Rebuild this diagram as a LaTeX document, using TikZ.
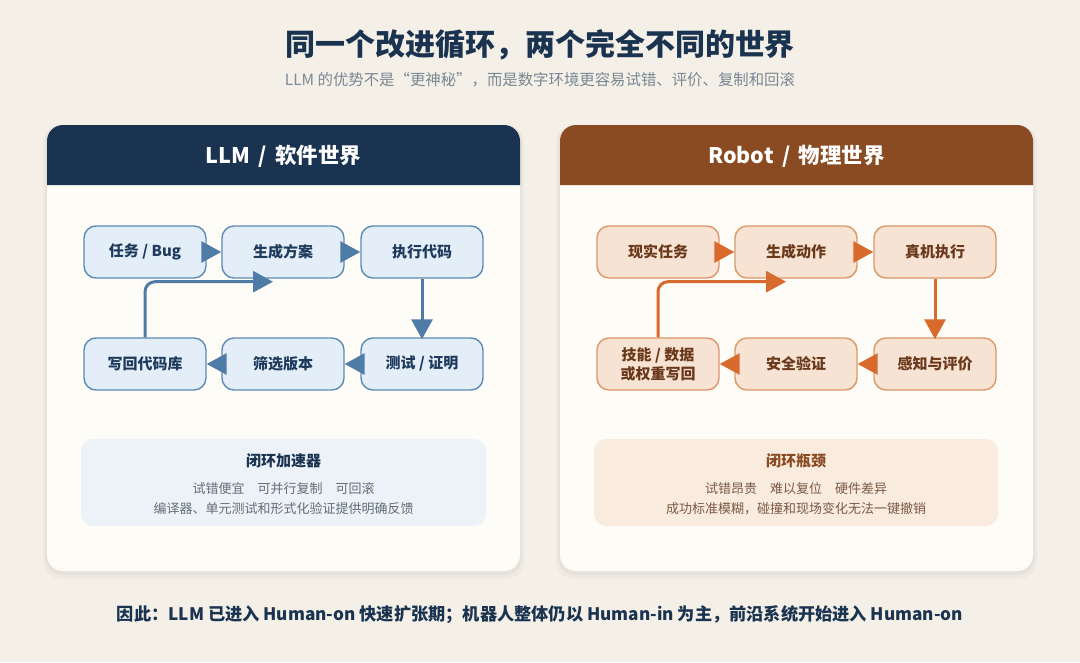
\documentclass[tikz,border=0pt]{standalone}
\usepackage{fontspec}
\setmainfont{Noto Sans CJK SC}
\usetikzlibrary{arrows.meta,calc}
\definecolor{bg}{HTML}{F4F0E7}
\definecolor{panel}{HTML}{FEFCF7}
\definecolor{navy}{HTML}{1A3350}
\definecolor{brown}{HTML}{8A4A22}
\definecolor{lfill}{HTML}{E4EEF8}
\definecolor{ldraw}{HTML}{5F8AB3}
\definecolor{larrow}{HTML}{4F7CA6}
\definecolor{ltext}{HTML}{1E3A5C}
\definecolor{rfill}{HTML}{F7E3D3}
\definecolor{rdraw}{HTML}{DC9868}
\definecolor{rarrow}{HTML}{D76A2C}
\definecolor{rtext}{HTML}{6A381A}
\definecolor{lnote}{HTML}{ECF2F8}
\definecolor{rnote}{HTML}{FAEBDF}
\definecolor{graytext}{HTML}{636D79}
\definecolor{browntext}{HTML}{7A5A45}
\definecolor{subgray}{HTML}{7A8794}
\tikzset{
  box/.style={rectangle, rounded corners=12pt, minimum width=122pt, minimum height=52pt, line width=1.4pt, inner sep=2pt, align=center, font=\bfseries\fontsize{15}{19}\selectfont},
  lbox/.style={box, fill=lfill, draw=ldraw, text=ltext},
  rbox/.style={box, fill=rfill, draw=rdraw, text=rtext},
  arr/.style={line width=3pt, -{Triangle[length=20pt,width=21pt]}},
  larr/.style={arr, draw=larrow},
  rarr/.style={arr, draw=rarrow},
  headtxt/.style={text=white, font=\bfseries\fontsize{21.5}{25}\selectfont},
  notetitle/.style={font=\bfseries\fontsize{15}{18}\selectfont},
  notetxt/.style={font=\fontsize{13}{16}\selectfont},
}
\begin{document}
\begin{tikzpicture}[x=1pt,y=-1pt]
\fill[bg] (0,0) rectangle (1080,662);
\useasboundingbox (0,0) rectangle (1080,662);
% title
\node[text=navy, font=\bfseries\fontsize{30}{34}\selectfont] (title) at (540,45) {同一个改进循环，两个完全不同的世界};
\node[text=subgray, font=\fontsize{15.4}{18}\selectfont] (subtitle) at (540,80) {LLM 的优势不是“更神秘”，而是数字环境更容易试错、评价、复制和回滚};
% panels with shadow
\foreach \dx in {0,513}{
  \fill[black, opacity=0.025, rounded corners=18pt] (47+\dx-4,125) rectangle (520+\dx+4,571+8);
  \fill[black, opacity=0.03, rounded corners=17pt] (47+\dx-2,125) rectangle (520+\dx+2,571+4);
  \fill[panel, rounded corners=16pt] (47+\dx,125) rectangle (520+\dx,571);
}
\fill[navy] (47,185) {[rounded corners=16pt] -- (47,125) -- (520,125)} -- (520,185) -- cycle;
\fill[brown] (560,185) {[rounded corners=16pt] -- (560,125) -- (1033,125)} -- (1033,185) -- cycle;
\node[headtxt] (lhead) at (283.5,156) {LLM \,/\, 软件世界};
\node[headtxt] (rhead) at (796.5,156) {Robot \,/\, 物理世界};
% left nodes
\node[lbox] (l1) at (145,252) {任务 / Bug};
\node[lbox] (l2) at (283,252) {生成方案};
\node[lbox] (l3) at (422,252) {执行代码};
\node[lbox] (l4) at (145,364) {写回代码库};
\node[lbox] (l5) at (283,364) {筛选版本};
\node[lbox] (l6) at (422,364) {测试 / 证明};
\draw[larr] (l1.east) -- (l2.west);
\draw[larr] (l2.east) -- (l3.west);
\draw[larr] (l3.south) -- ($(l6.north)+(0,2)$);
\draw[larr] (l6.west) -- (l5.east);
\draw[larr] (l5.west) -- (l4.east);
\draw[larr, rounded corners=10pt] (l4.north) |- ($(l2.south)+(-10,3)$);
% right nodes
\node[rbox] (r1) at (658,252) {现实任务};
\node[rbox] (r2) at (796,252) {生成动作};
\node[rbox] (r3) at (935,252) {真机执行};
\node[rbox] (r4) at (658,364) {技能 / 数据\\或权重写回};
\node[rbox] (r5) at (796,364) {安全验证};
\node[rbox] (r6) at (935,364) {感知与评价};
\draw[rarr] (r1.east) -- (r2.west);
\draw[rarr] (r2.east) -- (r3.west);
\draw[rarr] (r3.south) -- ($(r6.north)+(0,2)$);
\draw[rarr] (r6.west) -- (r5.east);
\draw[rarr] (r5.west) -- (r4.east);
\draw[rarr, rounded corners=10pt] (r4.north) |- ($(r2.south)+(-10,3)$);
% notes
\fill[lnote, rounded corners=12pt] (81,439) rectangle (486,526);
\fill[rnote, rounded corners=12pt] (594,439) rectangle (998,526);
\node[notetitle, text=navy] (lnt) at (283.5,461) {闭环加速器};
\node[notetxt, text=graytext] (lnl1) at (283.5,489) {试错便宜\hspace{1em}可并行复制\hspace{1em}可回滚};
\node[notetxt, text=graytext] (lnl2) at (283.5,509) {编译器、单元测试和形式化验证提供明确反馈};
\node[notetitle, text=brown] (rnt) at (796,461) {闭环瓶颈};
\node[notetxt, text=browntext] (rnl1) at (796,489) {试错昂贵\hspace{1em}难以复位\hspace{1em}硬件差异};
\node[notetxt, text=browntext] (rnl2) at (796,509) {成功标准模糊，碰撞和现场变化无法一键撤销};
% bottom
\node[text=navy, font=\bfseries\fontsize{17.2}{20}\selectfont] (bottom) at (540,615) {因此：LLM 已进入 Human-on 快速扩张期；机器人整体仍以 Human-in 为主，前沿系统开始进入 Human-on};
\end{tikzpicture}
\end{document}
